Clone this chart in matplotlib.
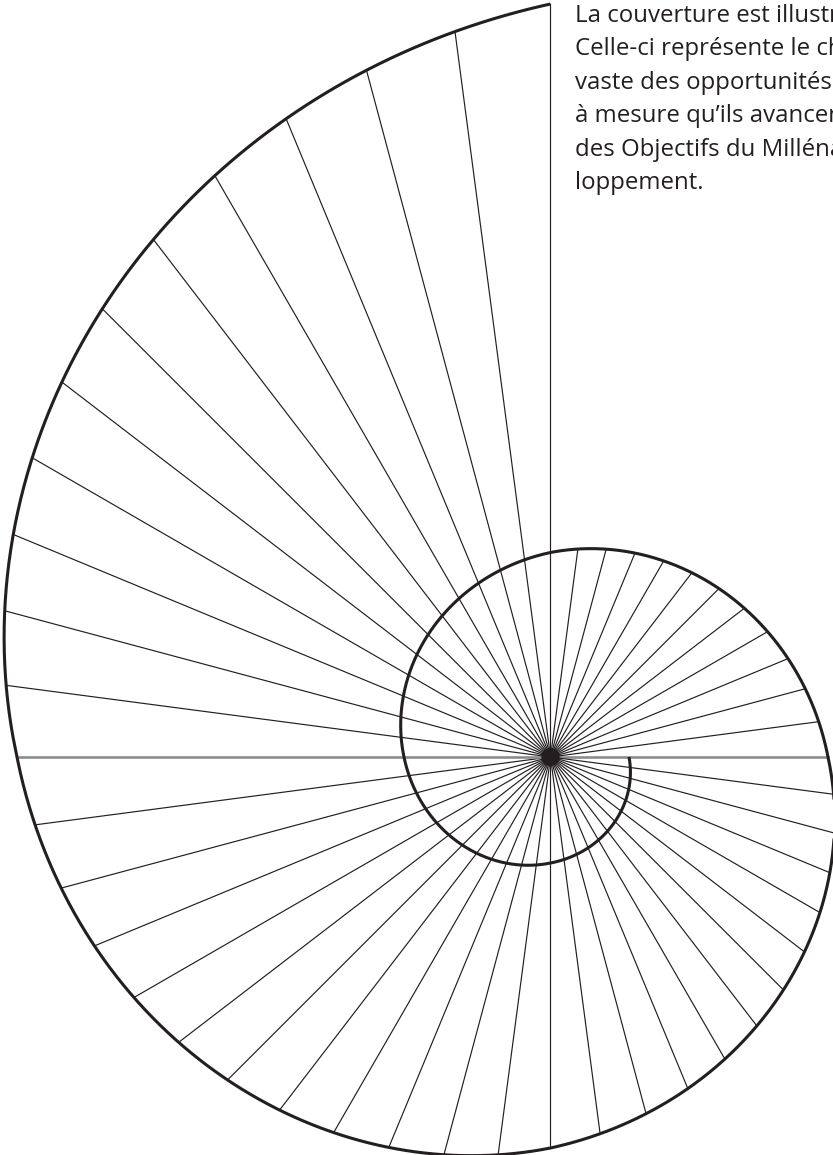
import numpy as np
import matplotlib.pyplot as plt

# spiral radius (px) at every quarter turn,
# sweeping clockwise from the inner tip on the right
sweep_deg = [0, 90, 180, 270, 360, 450, 540, 630]
radius_px = [78.5, 106, 146.5, 204.5, 277.5, 391, 533.5, 753]

n_rays = 48
cx, cy = 550.5, 757

# caption as far as it shows before the page edge
caption = [
    "La couverture est illustr",
    "Celle-ci représente le ch",
    "vaste des opportunités",
    "à mesure qu’ils avancen",
    "des Objectifs du Milléna",
    "loppement.",
]

ink = '#231f20'


def spiral_r(t):
    return np.exp(np.interp(t, sweep_deg, np.log(radius_px)))


fig = plt.figure(figsize=(8.33, 11.55), dpi=100)
ax = fig.add_axes([0, 0, 1, 1])
ax.set_xlim(0, 833)
ax.set_ylim(1155, 0)
ax.axis('off')

# rays from the centre out to the last turn of the shell
for k in range(n_rays):
    th = k * 360.0 / n_rays
    t = th if th > 270 else th + 360
    r = spiral_r(t)
    a = np.radians(th)
    x1, y1 = cx + r * np.cos(a), cy + r * np.sin(a)
    if k % (n_rays // 2) == 0:
        # horizontal axis is drawn grey and a bit heavier
        ax.plot([cx, x1], [cy, y1], color='#8c8c8c', lw=1.9, zorder=2)
    else:
        ax.plot([cx, x1], [cy, y1], color=ink, lw=0.85, zorder=2)

# the spiral itself
t = np.linspace(0, 630, 2000)
r = spiral_r(t)
ax.plot(cx + r * np.cos(np.radians(t)), cy + r * np.sin(np.radians(t)),
        color=ink, lw=2.2, solid_capstyle='butt', zorder=3)

ax.add_patch(plt.Circle((cx, cy), 8.5, color=ink, zorder=4))

for i, line in enumerate(caption):
    ax.text(575, 22 + i * 33.4, line, fontsize=17.3, color=ink,
            family='Open Sans', va='baseline', ha='left')

fig.savefig('out.png', dpi=100)
